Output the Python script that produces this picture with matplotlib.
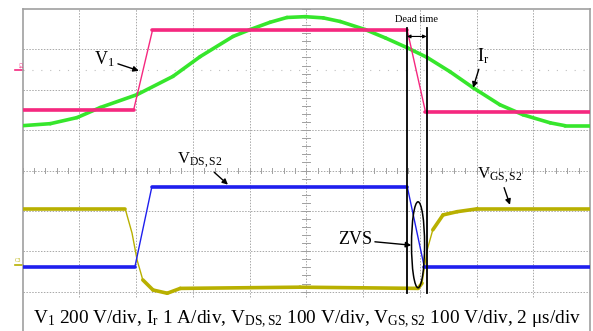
import matplotlib.pyplot as plt
from matplotlib.patches import Ellipse, Rectangle
import numpy as np

# scope traces, in screen divisions (x: 0..10, y: 0..8 from bottom)
v1_x = [0, 1.96, 2.29, 6.78, 7.10, 10]
v1_y = [5.51, 5.51, 7.47, 7.47, 5.46, 5.46]

ir_x = [0, 0.49, 0.96, 1.37, 2.02, 2.65, 3.13, 3.71, 4.01, 4.36, 4.66, 4.98,
        5.30, 5.60, 6.04, 6.40, 6.78, 7.13, 7.53, 7.94, 8.41, 8.82, 9.30,
        9.56, 10]
ir_y = [5.11, 5.16, 5.31, 5.56, 5.88, 6.33, 6.82, 7.32, 7.49, 7.67, 7.79,
        7.81, 7.78, 7.69, 7.49, 7.28, 7.04, 6.80, 6.45, 6.05, 5.63, 5.38,
        5.18, 5.11, 5.11]

vds_x = [0, 1.98, 2.28, 6.78, 7.08, 10]
vds_y = [1.61, 1.61, 3.60, 3.60, 1.61, 1.61]

vgs_x = [0, 1.81, 1.93, 2.02, 2.12, 2.30, 2.55, 2.78, 4.89, 6.97, 7.04,
         7.13, 7.23, 7.41, 7.66, 8.01, 10]
vgs_y = [3.05, 3.05, 2.45, 1.78, 1.29, 1.04, 0.96, 1.08, 1.11, 1.08, 1.21,
         2.03, 2.53, 2.90, 2.98, 3.05, 3.05]

dead_start, dead_end = 6.775, 7.12

PINK = "#f5287f"
GREEN = "#36e62c"
BLUE = "#1f1fee"
YELLOW = "#b8b000"

plt.rcParams['font.family'] = ['Liberation Serif', 'DejaVu Serif']
plt.rcParams['mathtext.fontset'] = 'custom'
plt.rcParams['mathtext.rm'] = 'Liberation Serif'
plt.rcParams['mathtext.it'] = 'Liberation Serif:italic'


def trace(ax, xs, ys, color):
    xs = np.asarray(xs, float)
    ys = np.asarray(ys, float)
    ax.plot(xs, ys, color=color, lw=1.0, zorder=3)
    for i in range(len(xs) - 1):
        slope = abs((ys[i + 1] - ys[i]) / (xs[i + 1] - xs[i]))
        if slope < 2.5:
            ax.plot(xs[i:i + 2], ys[i:i + 2], color=color, lw=2.6,
                    solid_capstyle='round', zorder=3)


fig = plt.figure(figsize=(5.93, 3.31), dpi=100)
ax = fig.add_axes([22.5 / 593, -1 / 331, 567.5 / 593, 323 / 331])
ax.set_xlim(0, 10)
ax.set_ylim(0, 8)
ax.set_xticks([])
ax.set_yticks([])
for s in ax.spines.values():
    s.set_color("#a0a0a0")
    s.set_linewidth(1.2)

# graticule
for gx in range(1, 10):
    ax.axvline(gx, color="#a8a8a8", lw=0.7, ls=(0, (1.5, 1.5)), zorder=1)
for gy in range(1, 8):
    ax.axhline(gy, color="#a8a8a8", lw=0.7, ls=(0, (1.5, 1.5)), zorder=1)
for t in np.arange(0, 10.01, 0.2):
    ax.plot([t, t], [3.93, 4.07], color="#a0a0a0", lw=0.7, zorder=1)
for t in np.arange(0, 8.01, 0.2):
    ax.plot([4.93, 5.07], [t, t], color="#a0a0a0", lw=0.7, zorder=1)
ax.axhline(6.5, color="#c0c0c0", lw=0.8, ls=(0, (1, 7)), zorder=1)

trace(ax, ir_x, ir_y, GREEN)
trace(ax, v1_x, v1_y, PINK)
trace(ax, vgs_x, vgs_y, YELLOW)
trace(ax, vds_x, vds_y, BLUE)

# dead time markers
for dx in (dead_start, dead_end):
    ax.plot([dx, dx], [0.97, 7.52], color="black", lw=1.3, zorder=5)
ax.annotate("", xy=(dead_start, 7.32), xytext=(dead_end, 7.32),
            arrowprops=dict(arrowstyle="<|-|>", color="black", lw=0.8,
                            mutation_scale=5, shrinkA=0, shrinkB=0), zorder=5)
ax.text((dead_start + dead_end) / 2, 7.74, "Dead time", fontsize=7.5,
        ha="center", va="center", zorder=5)
ax.add_patch(Ellipse((6.97, 2.16), 0.23, 2.13, fill=False, ec="black",
                     lw=1.1, zorder=5))

arrow = dict(arrowstyle="-|>", color="black", lw=1.0, mutation_scale=8,
             shrinkA=0, shrinkB=0)
ax.annotate("V$_{1}$", xy=(2.05, 6.47), xytext=(1.45, 6.75), fontsize=13,
            ha="center", va="center", arrowprops=arrow, zorder=6)
ax.annotate("I$_{\\mathrm{r}}$", xy=(7.94, 6.05), xytext=(8.11, 6.82),
            fontsize=13, ha="center", va="center", arrowprops=arrow, zorder=6)
ax.annotate("V$_{\\mathrm{DS,S2}}$", xy=(3.62, 3.65), xytext=(3.13, 4.27),
            fontsize=12, ha="center", va="center", arrowprops=arrow, zorder=6)
ax.annotate("V$_{\\mathrm{GS,S2}}$", xy=(8.59, 3.15), xytext=(8.41, 3.89),
            fontsize=12, ha="center", va="center", arrowprops=arrow, zorder=6)
ax.annotate("ZVS", xy=(6.85, 2.15), xytext=(5.86, 2.28), fontsize=13,
            ha="center", va="center", arrowprops=arrow, zorder=6)

# channel markers
ax.text(-0.02, 6.62, "C4", fontsize=4, color=PINK, ha="right", va="center",
        rotation=-90, clip_on=False)
ax.plot([-0.13, 0], [6.5, 6.5], color=PINK, lw=1.2, clip_on=False)
ax.text(-0.02, 1.78, "C3", fontsize=4, color=YELLOW, ha="right",
        va="center", clip_on=False)
ax.plot([-0.13, 0], [1.65, 1.65], color=YELLOW, lw=1.2, clip_on=False)

# caption box over the bottom division
ax.add_patch(Rectangle((0.02, 0), 9.96, 0.83, facecolor="white",
                       edgecolor="none", zorder=7))
ax.text(5.02, 0.32,
        "V$_{1}$ 200 V/div, I$_{\\mathrm{r}}$ 1 A/div, V$_{\\mathrm{DS,S2}}$ 100 V/div, "
        "V$_{\\mathrm{GS,S2}}$ 100 V/div, 2 \u03bcs/div",
        fontsize=13.9, ha="center", va="center", zorder=8)

fig.savefig("out.png", dpi=100)
